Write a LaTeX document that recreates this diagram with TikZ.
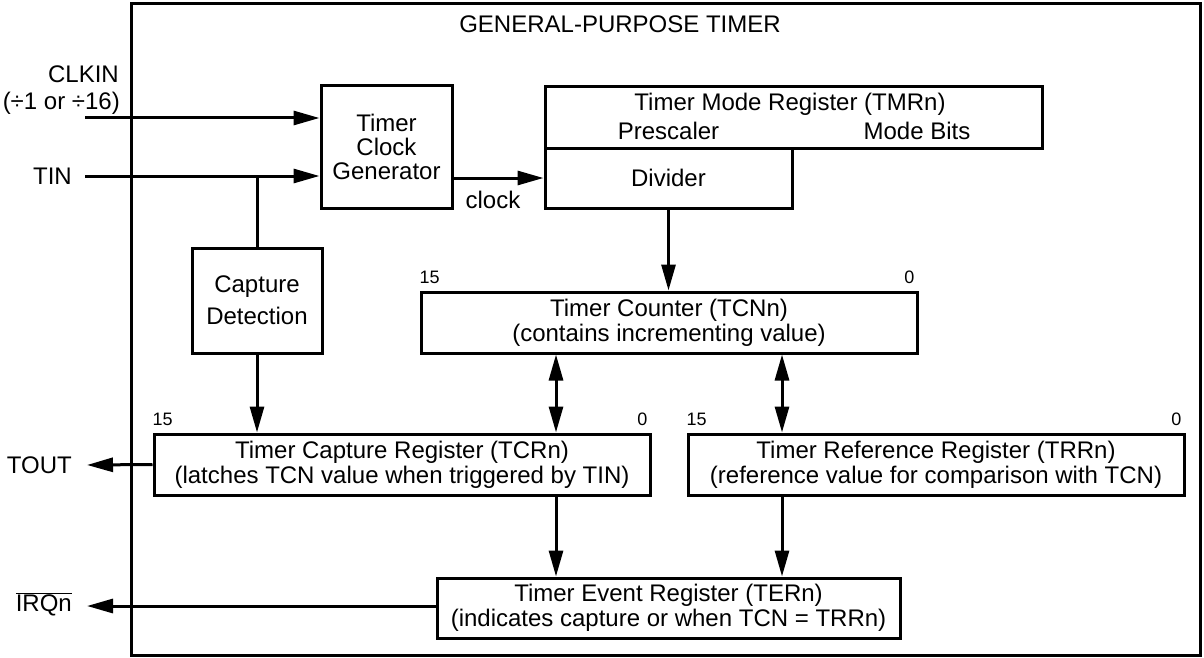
\documentclass[tikz,border=0pt]{standalone}
\usepackage{fontspec}
\setmainfont{Liberation Sans}
\usetikzlibrary{arrows.meta}
\tikzset{
  lw/.style={line width=3pt},
  box/.style={draw, lw, inner sep=0pt, align=center, font=\fontsize{24}{25}\selectfont},
  txt/.style={inner sep=0pt, align=center, font=\fontsize{24}{25}\selectfont},
  bit/.style={inner sep=0pt, font=\fontsize{18}{19}\selectfont},
  arr/.style={lw, -{Triangle[length=26pt,width=14pt]}},
  darr/.style={lw, {Triangle[length=26pt,width=14pt]}-{Triangle[length=26pt,width=14pt]}},
  wire/.style={lw}
}
\begin{document}
\begin{tikzpicture}[x=1pt,y=1pt]
\useasboundingbox (0,0) rectangle (1204,-658);
% outer frame
\node[draw, lw, inner sep=0pt, minimum width=1069pt, minimum height=651pt] (frame) at (665.5,-329.5) {};
\node[txt] (title) at (620,-24) {GENERAL-PURPOSE TIMER};

% boxes
\node[box, minimum width=131pt, minimum height=122pt, font=\fontsize{24}{24}\selectfont] (tcg) at (386.5,-147) {Timer\\Clock\\Generator};
\node[box, minimum width=130pt, minimum height=105pt, font=\fontsize{24}{32}\selectfont] (cap) at (257,-300.5) {Capture\\Detection};
\node[box, minimum width=497pt, minimum height=61pt] (tmr) at (793.5,-117.5) {};
\node[box, minimum width=247pt, minimum height=60pt] (div) at (668.5,-178) {Divider};
\node[box, minimum width=496pt, minimum height=61pt] (tcn) at (669,-322.5) {Timer Counter (TCNn)\\(contains incrementing value)};
\node[box, minimum width=496pt, minimum height=61pt] (tcr) at (402,-464.5) {Timer Capture Register (TCRn)\\(latches TCN value when triggered by TIN)};
\node[box, minimum width=496pt, minimum height=61pt] (trr) at (936,-464.5) {Timer Reference Register (TRRn)\\(reference value for comparison with TCN)};
\node[box, minimum width=463pt, minimum height=60pt] (ter) at (668.5,-608) {Timer Event Register (TERn)\\(indicates capture or when TCN = TRRn)};

% TMR texts
\node[txt] (tmrt) at (790,-104) {Timer Mode Register (TMRn)};
\node[txt] (pre) at (668.5,-131) {Prescaler};
\node[txt] (mode) at (917,-131) {Mode Bits};

% bit labels
\node[bit, anchor=south west] (tcn15) at ([yshift=7pt]tcn.north west) {15};
\node[bit, anchor=south east] (tcn0) at ([xshift=-4pt,yshift=7pt]tcn.north east) {0};
\node[bit, anchor=south west] (tcr15) at ([yshift=7pt]tcr.north west) {15};
\node[bit, anchor=south east] (tcr0) at ([xshift=-4pt,yshift=7pt]tcr.north east) {0};
\node[bit, anchor=south west] (trr15) at ([yshift=7pt]trr.north west) {15};
\node[bit, anchor=south east] (trr0) at ([xshift=-4pt,yshift=7pt]trr.north east) {0};

% pin labels
\node[txt, anchor=east] (clkin) at (119,-74) {CLKIN};
\node[txt, anchor=east] (div16) at (120,-103) {(÷1 or ÷16)};
\node[txt, anchor=east] (tin) at (72,-176) {TIN};
\node[txt, anchor=east] (tout) at (72,-465) {TOUT};
\node[txt, anchor=east] (irq) at (72,-604) {$\overline{\mbox{IRQn}}$};
\node[txt] (clk) at (493,-200) {clock};

% free ends
\coordinate (clkinend) at (85,-118);
\coordinate (tinend) at (85,-176);
\coordinate (toutend) at (87,-465);
\coordinate (irqend) at (87,-606);
\coordinate (xa) at (556,0);
\coordinate (xb) at (782,0);

% connectors
\draw[arr] (clkinend) -- (clkinend -| tcg.west);
\draw[arr] (tinend) -- (tinend -| tcg.west);
\draw[wire] (cap.north) -- (cap.north |- tinend);
\draw[arr] (cap.south) -- (cap.south |- tcr.north);
\draw[arr] (div.west -| tcg.east) -- (div.west);
\draw[arr] (div.south) -- (div.south |- tcn.north);
\draw[darr] (tcn.south -| xa) -- (tcr.north -| xa);
\draw[darr] (tcn.south -| xb) -- (trr.north -| xb);
\draw[arr] (tcr.south -| xa) -- (ter.north -| xa);
\draw[arr] (trr.south -| xb) -- (ter.north -| xb);
\draw[arr] (tcr.west) -- (toutend);
\draw[arr] (irqend -| ter.west) -- (irqend);
\end{tikzpicture}
\end{document}
